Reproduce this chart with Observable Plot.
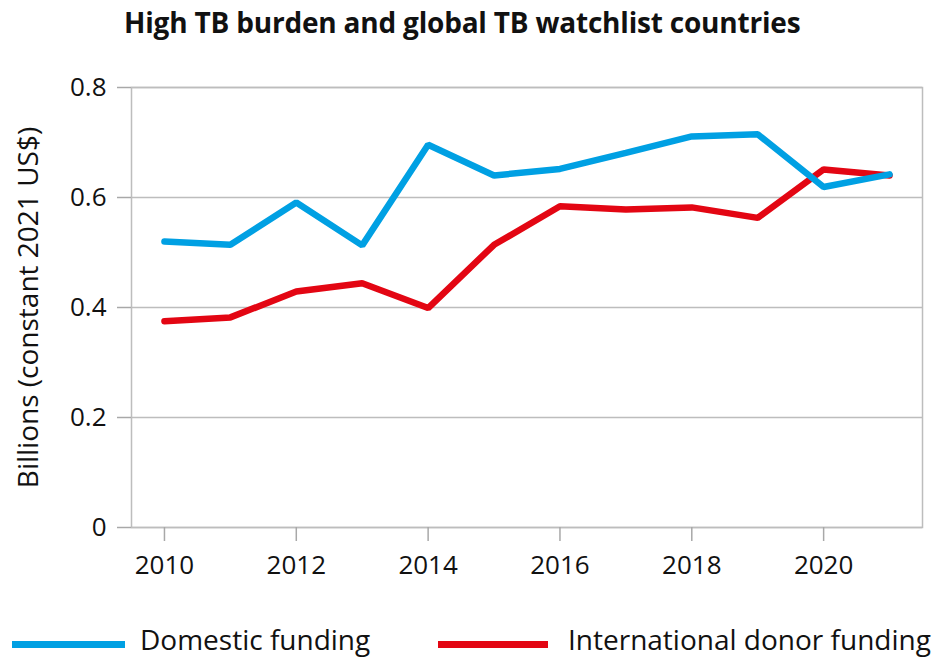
<!DOCTYPE html>
<html>
<head>
<meta charset="utf-8">
<script src="https://cdn.jsdelivr.net/npm/d3@7"></script>
<script src="https://cdn.jsdelivr.net/npm/@observablehq/plot@0.6"></script>
<style>
  html, body { margin: 0; padding: 0; background: #fff; }
  body { width: 942px; height: 661px; overflow: hidden; position: relative; font-family: "Open Sans", sans-serif; color: #111; }
  #title { height: 45px; line-height: 45px; padding-left: 124px; font-size: 28px; font-weight: 700; white-space: nowrap; letter-spacing: -0.2px; }
  #chart svg { display: block; }
  #chart g[aria-label="y-axis label"] { font-size: 28px; }
  .leg { position: absolute; font-size: 28px; white-space: nowrap; line-height: 1; }
  .sw { position: absolute; height: 7px; }
</style>
</head>
<body>
<div id="title">High TB burden and global TB watchlist countries</div>
<div id="chart"></div>
<div class="sw" style="left:12px; top:641px; width:113px; background:#00a0e3;"></div>
<div class="leg" style="left:140px; top:625px;">Domestic funding</div>
<div class="sw" style="left:438px; top:641px; width:110px; background:#e30613;"></div>
<div class="leg" style="left:568px; top:625px;">International donor funding</div>
<script>
const years = [2010, 2011, 2012, 2013, 2014, 2015, 2016, 2017, 2018, 2019, 2020, 2021];
const domestic = [0.520, 0.514, 0.591, 0.513, 0.696, 0.640, 0.652, 0.681, 0.711, 0.715, 0.619, 0.642];
const international = [0.375, 0.382, 0.429, 0.444, 0.399, 0.514, 0.584, 0.578, 0.582, 0.563, 0.651, 0.640];
const seriesNames = ["Domestic funding", "International donor funding"];
const seriesColors = ["#00a0e3", "#e30613"];
const xTicks = [2010, 2012, 2014, 2016, 2018, 2020];
const yTicks = [0, 0.2, 0.4, 0.6, 0.8];
const yLabel = "Billions (constant 2021 US$)";

const dom = years.map((y, i) => ({year: y, value: domestic[i], series: seriesNames[0]}));
const intl = years.map((y, i) => ({year: y, value: international[i], series: seriesNames[1]}));

const chart = Plot.plot({
  width: 942,
  height: 570,
  marginTop: 42,
  marginBottom: 88,
  marginLeft: 131,
  marginRight: 20,
  style: {fontFamily: "Open Sans, sans-serif", fontSize: "26px", color: "#111", background: "#fff"},
  x: {domain: [2009.5, 2021.5]},
  y: {domain: [0, 0.8]},
  color: {domain: seriesNames, range: seriesColors},
  marks: [
    Plot.gridY(yTicks, {stroke: "#bdbdbd", strokeOpacity: 1, strokeWidth: 1.5}),
    Plot.frame({stroke: "#bdbdbd", strokeWidth: 1.5}),
    Plot.axisY(yTicks, {
      tickSize: 14, tickPadding: 11, stroke: "#a8a8a8", strokeWidth: 1.5,
      tickFormat: d => d === 0 ? "0" : d.toFixed(1),
      label: yLabel, labelAnchor: "center", labelOffset: 113, labelArrow: "none",
      fill: "#111"
    }),
    Plot.axisX(xTicks, {
      tickSize: 14, tickPadding: 14, stroke: "#a8a8a8", strokeWidth: 1.5,
      tickFormat: d3.format("d"), label: null, fill: "#111"
    }),
    Plot.line(intl, {x: "year", y: "value", stroke: "series", strokeWidth: 6.5, strokeLinejoin: "miter", strokeLinecap: "round"}),
    Plot.line(dom, {x: "year", y: "value", stroke: "series", strokeWidth: 6.5, strokeLinejoin: "miter", strokeLinecap: "round"})
  ]
});
document.getElementById("chart").appendChild(chart);
</script>
</body>
</html>
